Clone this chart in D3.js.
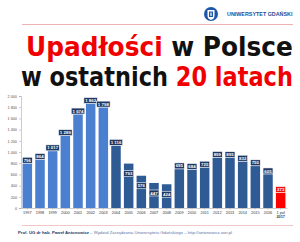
<!DOCTYPE html>
<html>
<head>
<meta charset="utf-8">
<script src="https://cdn.jsdelivr.net/npm/d3@7"></script>
<style>
  html, body { margin: 0; padding: 0; background: #fff; }
  svg { display: block; }
</style>
</head>
<body>
<svg id="chart" width="300" height="242"></svg>
<script>
// Data
const years = ["1997", "1998", "1999", "2000", "2001", "2002", "2003", "2004", "2005", "2006",
  "2007", "2008", "2009", "2010", "2011", "2012", "2013", "2014", "2015", "2016", "1 poł 2017"];
const bankruptcies = [796, 864, 1017, 1289, 1674, 1862, 1798, 1116, 793, 576,
  447, 424, 695, 684, 725, 899, 895, 832, 750, 605, 273];
const yTicks = [0, 200, 400, 600, 800, 1000, 1200, 1400, 1600, 1800, 2000];

const svg = d3.select("#chart");

// thousands with a space, like "1 862"
const fmt = v => d3.format(",")(v).replace(/,/g, " ");

// squeeze a text group horizontally so it spans exactly `w` pixels
function fitWidth(g, w) {
  const natural = g.node().getBBox().width;
  const x0 = +g.attr("data-x"), y0 = +g.attr("data-y");
  g.attr("transform", `translate(${x0},${y0}) scale(${w / natural},1)`);
}

// Header: logo + university name
const logo = svg.append("g").attr("transform", "translate(211,14)");
logo.append("circle").attr("r", 7).attr("fill", "#1d58a8");
logo.append("path")
  .attr("d", "M-3.5,-4 L3.5,-4 L3.5,1.5 Q3.5,5 0,6 Q-3.5,5 -3.5,1.5 Z")
  .attr("fill", "#fff");
logo.append("rect").attr("x", -2).attr("y", -2.5).attr("width", 4).attr("height", 5.5).attr("fill", "#1d58a8");
logo.append("rect").attr("x", -0.6).attr("y", -1.5).attr("width", 1.2).attr("height", 3.5).attr("fill", "#fff");

const uni = svg.append("g").attr("data-x", 227).attr("data-y", 16);
uni.append("text")
  .attr("font-family", "Liberation Sans, Arial, sans-serif")
  .attr("font-weight", "bold")
  .attr("font-size", 5.6)
  .attr("fill", "#1d4f9c")
  .text("UNIWERSYTET GDAŃSKI");
fitWidth(uni, 66);

svg.append("line")
  .attr("x1", 22).attr("x2", 293).attr("y1", 24.5).attr("y2", 24.5)
  .attr("stroke", "#e8a0a0").attr("stroke-width", 0.8);

// Title
const t1 = svg.append("g").attr("data-x", 26).attr("data-y", 56);
const title1 = t1.append("text")
  .attr("font-family", "DejaVu Sans, Verdana, sans-serif")
  .attr("font-weight", "bold")
  .attr("font-size", 27);
title1.append("tspan").attr("fill", "#f00000").text("Upadłości");
title1.append("tspan").attr("fill", "#111").text(" w Polsce");
fitWidth(t1, 267);

const t2 = svg.append("g").attr("data-x", 21).attr("data-y", 86);
const title2 = t2.append("text")
  .attr("font-family", "DejaVu Sans, Verdana, sans-serif")
  .attr("font-weight", "bold")
  .attr("font-size", 27);
title2.append("tspan").attr("fill", "#111").text("w ostatnich ");
title2.append("tspan").attr("fill", "#f00000").text("20 latach");
fitWidth(t2, 272);

// Scales
const x = d3.scaleBand().domain(years).range([21, 287]).paddingInner(0.25).paddingOuter(0.125);
const y = d3.scaleLinear().domain([0, 2000]).range([208, 96]);

// Y axis
const yAxis = svg.append("g")
  .attr("transform", "translate(21,0)")
  .call(d3.axisLeft(y).tickValues(yTicks).tickSize(2).tickPadding(2).tickFormat(fmt));
yAxis.select(".domain").attr("stroke", "#9a9a9a").attr("stroke-width", 0.5);
yAxis.selectAll(".tick line").attr("stroke", "#9a9a9a").attr("stroke-width", 0.5);
yAxis.selectAll("text")
  .attr("font-family", "Liberation Sans, Arial, sans-serif")
  .attr("font-size", 3.8)
  .attr("fill", "#555");

// X axis
const xAxis = svg.append("g")
  .attr("transform", "translate(0,208)")
  .call(d3.axisBottom(x).tickSize(1.5).tickSizeOuter(0).tickFormat(""));
xAxis.select(".domain").attr("stroke", "#9a9a9a").attr("stroke-width", 0.5);
xAxis.selectAll(".tick line").attr("stroke", "#9a9a9a").attr("stroke-width", 0.5);

xAxis.selectAll(".tick").append("text")
  .attr("font-family", "Liberation Sans, Arial, sans-serif")
  .attr("font-size", 3.8)
  .attr("fill", "#333")
  .attr("text-anchor", "middle")
  .each(function(d) {
    const parts = d.startsWith("1 poł") ? ["1 poł", "2017"] : [d];
    d3.select(this).selectAll("tspan").data(parts).join("tspan")
      .attr("x", 0)
      .attr("y", (p, i) => 5.5 + i * 4.2)
      .attr("font-weight", (p, i) => i === 1 ? "bold" : null)
      .text(p => p);
  });

// Bars
const colorFor = (d, i) => i === years.length - 1 ? "#ff0000" : (i < 7 ? "#4b7fcf" : "#2e5b93");

svg.append("g").selectAll("rect")
  .data(bankruptcies)
  .join("rect")
  .attr("x", (d, i) => x(years[i]))
  .attr("y", d => y(d))
  .attr("width", x.bandwidth())
  .attr("height", d => y(0) - y(d))
  .attr("fill", colorFor);

// Value labels (2005-2008 sit inside the bar)
const insideYears = ["2005", "2006", "2007", "2008"];
const labels = svg.append("g").selectAll("g")
  .data(bankruptcies)
  .join("g")
  .attr("transform", (d, i) => {
    const cx = x(years[i]) + x.bandwidth() / 2;
    const cy = insideYears.includes(years[i]) ? y(d) + 10 : y(d) - 3.2;
    return `translate(${cx},${cy})`;
  });

labels.append("text")
  .attr("text-anchor", "middle")
  .attr("dy", "0.36em")
  .attr("font-family", "Liberation Sans, Arial, sans-serif")
  .attr("font-weight", "bold")
  .attr("font-size", 4.4)
  .attr("fill", "#fff")
  .text(d => fmt(d));

labels.insert("rect", "text")
  .each(function() {
    const t = this.parentNode.querySelector("text").getComputedTextLength();
    d3.select(this)
      .attr("x", -t / 2 - 1.3)
      .attr("y", -3)
      .attr("width", t + 2.6)
      .attr("height", 6);
  })
  .attr("fill", (d, i) => i === years.length - 1 ? "#f01010" : "#1f3864")
  .attr("stroke", "#fff")
  .attr("stroke-width", 0.6);

// Footer
svg.append("line")
  .attr("x1", 22).attr("x2", 293).attr("y1", 225.5).attr("y2", 225.5)
  .attr("stroke", "#e8a0a0").attr("stroke-width", 0.6);

const footG = svg.append("g").attr("data-x", 18).attr("data-y", 234);
const foot = footG.append("text")
  .attr("font-family", "Liberation Sans, Arial, sans-serif")
  .attr("font-size", 4);
foot.append("tspan").attr("fill", "#1f3864").attr("font-weight", "bold").text("Prof. UG dr hab. Paweł Antonowicz");
foot.append("tspan").attr("fill", "#5a73a8").text(" – Wydział Zarządzania Uniwersytetu Gdańskiego – http://antonowicz.wzr.pl");
fitWidth(footG, 215);
</script>
</body>
</html>
